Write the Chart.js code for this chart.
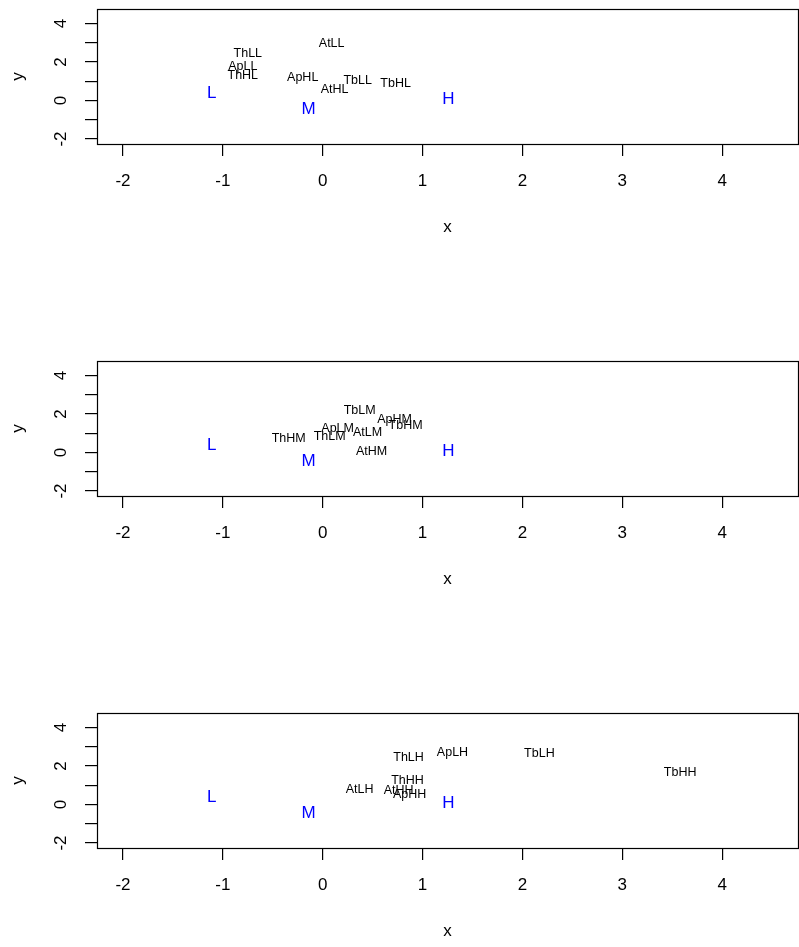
<!DOCTYPE html>
<html>
<head>
<meta charset="utf-8">
<script src="https://cdn.jsdelivr.net/npm/chart.js@4.4.1/dist/chart.umd.min.js"></script>
<style>
  html, body { margin: 0; padding: 0; background: #fff; overflow: hidden; }
  #wrap { position: relative; width: 799px; height: 947px; overflow: hidden; }
  canvas { position: absolute; left: 0; }
</style>
</head>
<body>
<div id="wrap">
  <canvas id="c1" width="799" height="352" style="top:0px"></canvas>
  <canvas id="c2" width="799" height="352" style="top:352px"></canvas>
  <canvas id="c3" width="799" height="352" style="top:704px"></canvas>
</div>
<script>
// group markers, same in every panel
const groupLabels = ["L", "M", "H"];
const groupX = [-1.11, -0.14, 1.26];
const groupY = [0.35, -0.48, 0.04];

// panel 1: *L
const lowLabels = ["AtLL", "ThLL", "ApLL", "ThHL", "ApHL", "AtHL", "TbLL", "TbHL"];
const lowX = [0.09, -0.75, -0.80, -0.80, -0.20, 0.12, 0.35, 0.73];
const lowY = [2.95, 2.46, 1.77, 1.28, 1.22, 0.59, 1.06, 0.87];

// panel 2: *M
const midLabels = ["TbLM", "ApHM", "TbHM", "ApLM", "AtLM", "ThLM", "ThHM", "AtHM"];
const midX = [0.37, 0.72, 0.83, 0.15, 0.45, 0.07, -0.34, 0.49];
const midY = [2.20, 1.72, 1.40, 1.25, 1.06, 0.85, 0.73, 0.03];

// panel 3: *H
const highLabels = ["ThLH", "ApLH", "TbLH", "TbHH", "ThHH", "AtLH", "AtHH", "ApHH"];
const highX = [0.86, 1.30, 2.17, 3.58, 0.85, 0.37, 0.76, 0.87];
const highY = [2.43, 2.72, 2.64, 1.68, 1.25, 0.78, 0.73, 0.50];

const xTicks = [-2, -1, 0, 1, 2, 3, 4];
const yTicks = [-2, -1, 0, 1, 2, 3, 4];
const yTickLabels = ["-2", "", "0", "", "2", "", "4"];

const FONT = "'Liberation Sans', Arial, Helvetica, sans-serif";

// draw each point's name at its position
const textLabels = {
  id: "textLabels",
  afterDatasetsDraw(chart) {
    const ctx = chart.ctx;
    chart.data.datasets.forEach((ds, i) => {
      const meta = chart.getDatasetMeta(i);
      ctx.save();
      ctx.font = ds.labelFont;
      ctx.fillStyle = ds.labelColor;
      ctx.textAlign = "center";
      ctx.textBaseline = "middle";
      meta.data.forEach((pt, j) => ctx.fillText(ds.names[j], pt.x, pt.y));
      ctx.restore();
    });
  }
};

// plot box
const box = {
  id: "box",
  afterDraw(chart) {
    const a = chart.chartArea;
    const ctx = chart.ctx;
    ctx.save();
    ctx.strokeStyle = "#000";
    ctx.lineWidth = 1.2;
    ctx.strokeRect(Math.round(a.left) + 0.5, Math.round(a.top) + 0.5,
                   Math.round(a.right - a.left), Math.round(a.bottom - a.top));
    ctx.restore();
  }
};

function toPoints(xs, ys) {
  return xs.map((x, i) => ({ x: x, y: ys[i] }));
}

function makePanel(id, names, xs, ys) {
  new Chart(document.getElementById(id), {
    type: "scatter",
    data: {
      datasets: [
        {
          data: toPoints(xs, ys),
          names: names,
          labelFont: "12.5px " + FONT,
          labelColor: "#000",
          pointRadius: 0
        },
        {
          data: toPoints(groupX, groupY),
          names: groupLabels,
          labelFont: "17px " + FONT,
          labelColor: "#0000FF",
          pointRadius: 0
        }
      ]
    },
    options: {
      responsive: false,
      animation: false,
      events: [],
      layout: { padding: { top: 9, right: 1, bottom: 114, left: 0 } },
      plugins: { legend: { display: false }, tooltip: { enabled: false } },
      scales: {
        x: {
          type: "linear",
          min: -2.26,
          max: 4.76,
          afterBuildTicks: s => { s.ticks = xTicks.map(v => ({ value: v })); },
          afterFit: s => { s.height = 94; s.paddingLeft = 0; s.paddingRight = 0; },
          border: { display: false },
          grid: { drawOnChartArea: false, drawTicks: true, tickLength: 12, color: "#000", lineWidth: 1.2 },
          ticks: { color: "#000", font: { family: FONT, size: 17 }, padding: 15, maxRotation: 0 },
          title: { display: true, text: "x", color: "#000", font: { family: FONT, size: 17 }, padding: 0 }
        },
        y: {
          type: "linear",
          min: -2.26,
          max: 4.76,
          afterBuildTicks: s => { s.ticks = yTicks.map(v => ({ value: v })); },
          afterFit: s => { s.width = 97; s.paddingTop = 0; s.paddingBottom = 0; },
          border: { display: false },
          grid: { drawOnChartArea: false, drawTicks: true, tickLength: 12, color: "#000", lineWidth: 1.2 },
          ticks: {
            color: "#000",
            font: { family: FONT, size: 17 },
            padding: 16,
            minRotation: 90,
            maxRotation: 90,
            crossAlign: "center",
            callback: (v, i) => yTickLabels[i]
          },
          title: { display: true, text: "y", color: "#000", font: { family: FONT, size: 17 }, padding: { top: 8, bottom: 0 } }
        }
      }
    },
    plugins: [textLabels, box]
  });
}

makePanel("c1", lowLabels, lowX, lowY);
makePanel("c2", midLabels, midX, midY);
makePanel("c3", highLabels, highX, highY);
</script>
</body>
</html>
